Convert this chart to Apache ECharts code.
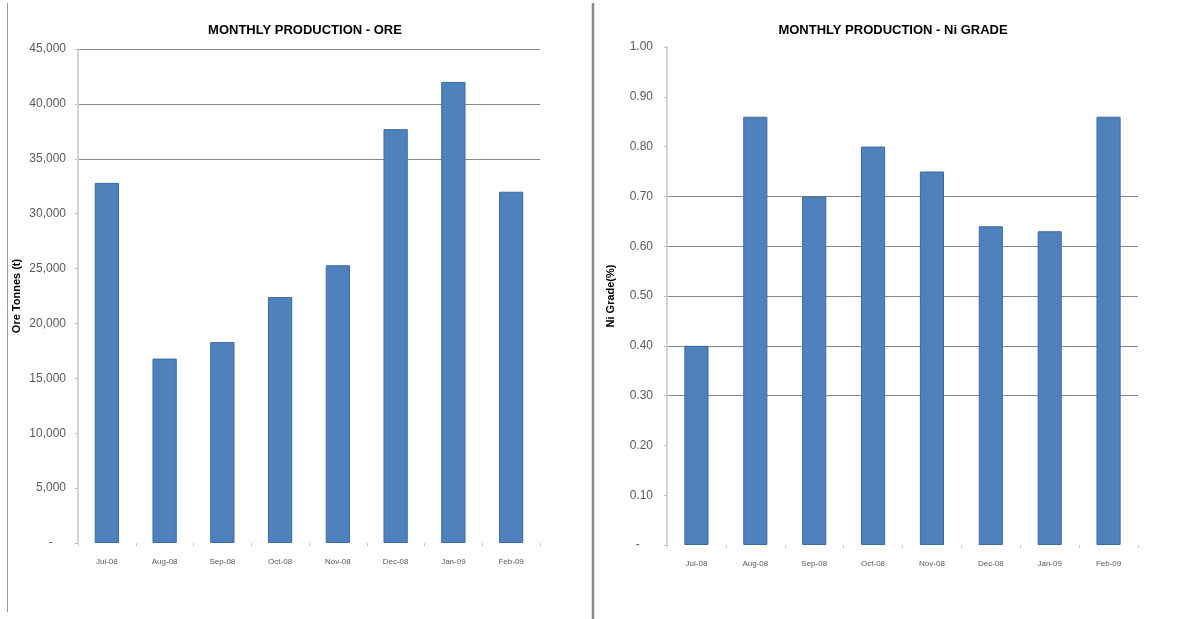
<!DOCTYPE html>
<html>
<head>
<meta charset="utf-8">
<script src="https://cdn.jsdelivr.net/npm/echarts@6/dist/echarts.min.js"></script>
<style>
html,body{margin:0;padding:0;background:#fff;}
#chart{width:1184px;height:619px;}
</style>
</head>
<body>
<div id="chart"></div>
<script>
// ---- data ----
const months = ['Jul-08','Aug-08','Sep-08','Oct-08','Nov-08','Dec-08','Jan-09','Feb-09'];
const oreTonnes = [32800, 16800, 18300, 22400, 25300, 37700, 42000, 32000];
const niGrade = [0.40, 0.86, 0.70, 0.80, 0.75, 0.64, 0.63, 0.86];
const oreTitle = 'MONTHLY PRODUCTION - ORE';
const niTitle = 'MONTHLY PRODUCTION - Ni GRADE';
const oreAxisName = 'Ore Tonnes (t)';
const niAxisName = 'Ni Grade(%)';

const GRID = '#868686';
const NONE = 'rgba(0,0,0,0)';
const FONT = 'Liberation Sans';

const chart = echarts.init(document.getElementById('chart'));

function yAxisBase() {
  return {
    type: 'value',
    nameLocation: 'middle',
    nameRotate: 90,
    nameTextStyle: {fontFamily: FONT, fontSize: 11, fontWeight: 'bold', color: '#000'},
    axisLine: {show: true, lineStyle: {color: '#d4d4d4', width: 2}},
    axisTick: {show: true, length: 3, lineStyle: {color: '#bfbfbf'}},
    axisLabel: {fontFamily: FONT, fontSize: 12, color: '#595959'}
  };
}
function xAxisBase(gi) {
  return {
    type: 'category',
    gridIndex: gi,
    data: months,
    axisLine: {show: false},
    axisTick: {show: true, length: 3, alignWithLabel: false, lineStyle: {color: '#c8c8c8'}},
    axisLabel: {fontFamily: FONT, fontSize: 8, color: '#595959', margin: 15}
  };
}
const barStyle = {color: '#4F81BD', borderColor: '#3D6A9E', borderWidth: 1};

const option = {
  backgroundColor: '#fff',
  animation: false,
  title: [
    {text: oreTitle, left: 300, top: 19, textAlign: 'center',
     textStyle: {fontFamily: FONT, fontSize: 13, fontWeight: 'bold', color: '#000'}},
    {text: niTitle, left: 888, top: 19, textAlign: 'center',
     textStyle: {fontFamily: FONT, fontSize: 13, fontWeight: 'bold', color: '#000'}}
  ],
  grid: [
    {left: 78, right: 644, top: 49, bottom: 76},
    {left: 667, right: 46, top: 47, bottom: 74}
  ],
  xAxis: [xAxisBase(0), xAxisBase(1)],
  yAxis: [
    Object.assign(yAxisBase(), {
      gridIndex: 0, min: 0, max: 45000, interval: 5000,
      name: oreAxisName, nameGap: 56,
      axisLabel: {fontFamily: FONT, fontSize: 12, color: '#595959', margin: 12,
        formatter: v => v === 0 ? '-    ' : v.toLocaleString('en-US')},
      splitLine: {show: true, lineStyle: {color: [NONE, NONE, NONE, NONE, NONE, NONE, NONE, GRID, GRID, GRID]}}
    }),
    Object.assign(yAxisBase(), {
      gridIndex: 1, min: 0, max: 1, interval: 0.1,
      name: niAxisName, nameGap: 51,
      axisLabel: {fontFamily: FONT, fontSize: 12, color: '#595959', margin: 14,
        formatter: v => v === 0 ? '-    ' : v.toFixed(2)},
      splitLine: {show: true, lineStyle: {color: [NONE, NONE, NONE, GRID, GRID, GRID, GRID, GRID, NONE, NONE, NONE]}}
    })
  ],
  series: [
    {type: 'bar', xAxisIndex: 0, yAxisIndex: 0, data: oreTonnes, barWidth: '42%', itemStyle: barStyle},
    {type: 'bar', xAxisIndex: 1, yAxisIndex: 1, data: niGrade, barWidth: '41%', itemStyle: barStyle}
  ],
  graphic: [
    {type: 'line', shape: {x1: 7.5, y1: 3, x2: 7.5, y2: 612}, style: {stroke: '#9a9a9a', lineWidth: 1}},
    {type: 'line', shape: {x1: 593, y1: 3, x2: 593, y2: 619}, style: {stroke: '#8a8a8a', lineWidth: 2.5}}
  ]
};
chart.setOption(option);
</script>
</body>
</html>
